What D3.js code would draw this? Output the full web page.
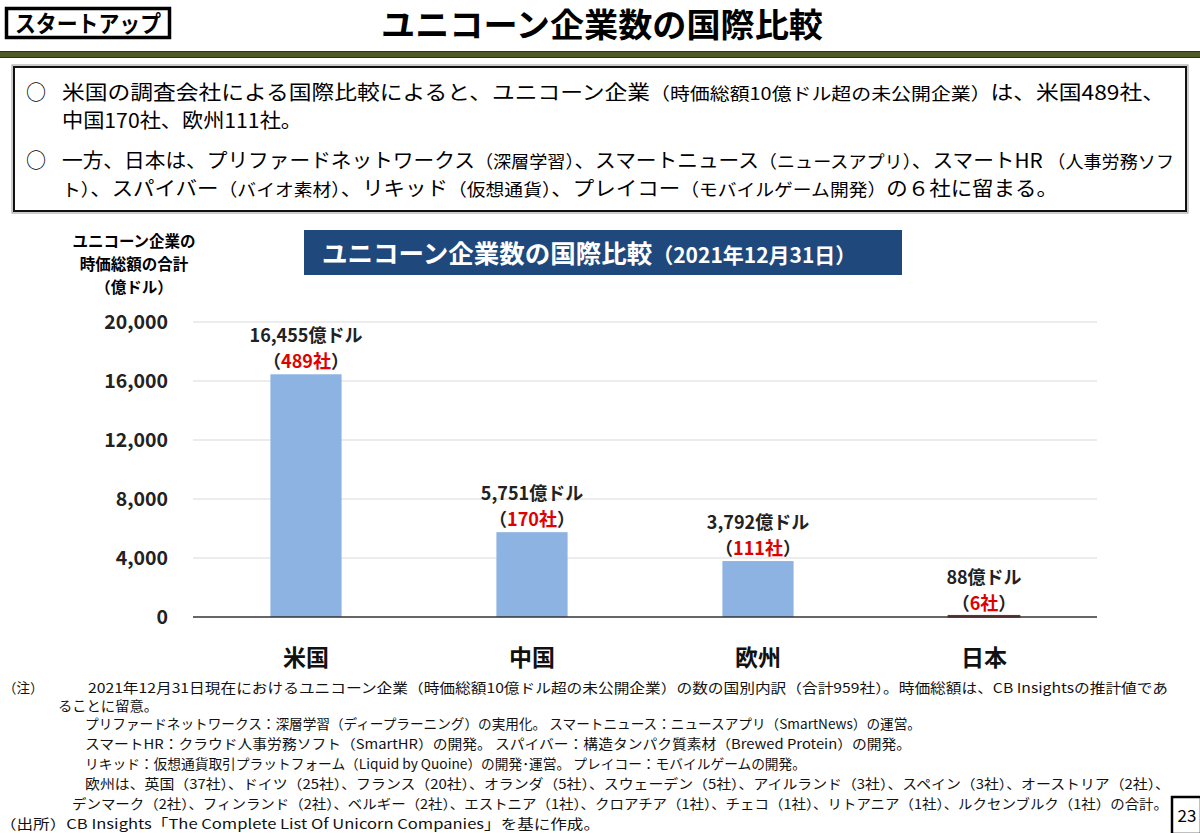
<!DOCTYPE html>
<html>
<head>
<meta charset="utf-8">
<script src="https://cdn.jsdelivr.net/npm/d3@7"></script>
<style>
  body { margin: 0; background: #fff; }
  svg text { font-family: "Noto Sans CJK JP", "Noto Sans", sans-serif; }
</style>
</head>
<body>
<div id="chart"></div>
<script>
// data
var categories = ["米国", "中国", "欧州", "日本"];
var values = [16455, 5751, 3792, 88];     // 億ドル
var counts = [489, 170, 111, 6];          // 社
var yTicks = [0, 4000, 8000, 12000, 16000, 20000];

var W = 1200, H = 833;
var svg = d3.select("#chart").append("svg")
  .attr("width", W).attr("height", H);

// ---- slide header ----
svg.append("rect").attr("x", 6.5).attr("y", 8.5).attr("width", 163).attr("height", 29)
  .attr("fill", "#fff").attr("stroke", "#000").attr("stroke-width", 3.5);
svg.append("text").attr("x", 88).attr("y", 32).attr("text-anchor", "middle")
  .attr("font-size", 23).attr("font-weight", "bold")
  .attr("textLength", 146).attr("lengthAdjust", "spacingAndGlyphs")
  .text("スタートアップ");

svg.append("text").attr("x", 602).attr("y", 37).attr("text-anchor", "middle")
  .attr("font-size", 33).attr("font-weight", "bold")
  .attr("textLength", 442).attr("lengthAdjust", "spacingAndGlyphs")
  .text("ユニコーン企業数の国際比較");

svg.append("rect").attr("x", 0).attr("y", 51).attr("width", W).attr("height", 7).attr("fill", "#4d5a27");
svg.append("line").attr("x1", 0).attr("x2", W).attr("y1", 51.5).attr("y2", 51.5).attr("stroke", "#2b2f1c");
svg.append("line").attr("x1", 0).attr("x2", W).attr("y1", 57.5).attr("y2", 57.5).attr("stroke", "#2b2f1c");

// ---- summary box ----
svg.append("rect").attr("x", 12).attr("y", 65).attr("width", 1176).attr("height", 148)
  .attr("fill", "none").attr("stroke", "#999").attr("stroke-width", 1);
svg.append("rect").attr("x", 14).attr("y", 67).attr("width", 1172).attr("height", 144)
  .attr("fill", "#fff").attr("stroke", "#111").attr("stroke-width", 2);

var summary = [
  { y: 100, bullet: true, len: 1103, parts: [
      ["米国の調査会社による国際比較によると、ユニコーン企業", 20],
      ["（時価総額10億ドル超の未公開企業）", 17.5],
      ["は、米国489社、", 20]] },
  { y: 128, bullet: false, len: 240, parts: [["中国170社、欧州111社。", 20]] },
  { y: 168, bullet: true, len: 1112, parts: [
      ["一方、日本は、プリファードネットワークス", 20],
      ["（深層学習）", 17.5], ["、スマートニュース", 20],
      ["（ニュースアプリ）", 17.5], ["、スマートHR ", 20],
      ["（人事労務ソフ", 17.5]] },
  { y: 196, bullet: false, len: 996, parts: [
      ["ト）", 17.5], ["、スパイバー", 20], ["（バイオ素材）", 17.5],
      ["、リキッド", 20], ["（仮想通貨）", 17.5], ["、プレイコー", 20],
      ["（モバイルゲーム開発）", 17.5], ["の６社に留まる。", 20]] }
];

summary.forEach(function(line) {
  if (line.bullet) {
    svg.append("text").attr("x", 26).attr("y", line.y).attr("font-size", 20).text("○");
  }
  var t = svg.append("text").attr("x", 62).attr("y", line.y)
    .attr("textLength", line.len).attr("lengthAdjust", "spacingAndGlyphs");
  line.parts.forEach(function(p) {
    t.append("tspan").attr("font-size", p[1]).text(p[0]);
  });
});

// ---- chart ----
var x = d3.scaleBand().domain(categories).range([193, 1097])
  .paddingInner(0.685).paddingOuter(0.3425);
var y = d3.scaleLinear().domain([0, 20000]).range([617, 322]);

// chart title band
svg.append("rect").attr("x", 304).attr("y", 230).attr("width", 598).attr("height", 45).attr("fill", "#1f497d");
var ct = svg.append("text").attr("x", 322).attr("y", 263).attr("fill", "#fff").attr("font-weight", "bold");
ct.append("tspan").attr("font-size", 25.5).text("ユニコーン企業数の国際比較");
ct.append("tspan").attr("font-size", 21).text("（2021年12月31日）");

// y axis title
["ユニコーン企業の", "時価総額の合計", "（億ドル）"].forEach(function(s, i) {
  svg.append("text").attr("x", 134).attr("y", 247 + i * 23).attr("text-anchor", "middle")
    .attr("font-size", 15.5).attr("font-weight", "bold").text(s);
});

// gridlines
svg.append("g").selectAll("line").data(yTicks.slice(1)).enter().append("line")
  .attr("x1", 193).attr("x2", 1097)
  .attr("y1", function(d) { return y(d); }).attr("y2", function(d) { return y(d); })
  .attr("stroke", "#d9d9d9").attr("stroke-width", 1.2);

// y axis labels
var yAxis = d3.axisLeft(y).tickValues(yTicks).tickSize(0).tickPadding(0)
  .tickFormat(d3.format(","));
var yg = svg.append("g").attr("transform", "translate(168,0)").call(yAxis);
yg.select(".domain").remove();
yg.selectAll("text").attr("font-size", 19.5).attr("font-weight", "bold").attr("fill", "#222")
  .style("font-family", "'Noto Sans CJK JP', sans-serif");

var rows = categories.map(function(c, i) { return { cat: c, v: values[i], n: counts[i] }; });

// bars
svg.append("g").selectAll("rect").data(rows).enter().append("rect")
  .attr("x", function(d) { return x(d.cat); })
  .attr("width", x.bandwidth())
  .attr("y", function(d) { return y(d.v); })
  .attr("height", function(d) { return y(0) - y(d.v); })
  .attr("fill", function(d) { return d.cat === "日本" ? "#9c1c1c" : "#8db3e2"; })
  .attr("stroke", function(d) { return d.cat === "日本" ? "#9c1c1c" : "none"; })
  .attr("stroke-width", 1.5);

// baseline
svg.append("line").attr("x1", 193).attr("x2", 1097).attr("y1", y(0)).attr("y2", y(0))
  .attr("stroke", "#333").attr("stroke-width", 1.5);

// value labels
var lab = svg.append("g").selectAll("g").data(rows).enter().append("g");
lab.append("text")
  .attr("x", function(d) { return x(d.cat) + x.bandwidth() / 2; })
  .attr("y", function(d) { return y(d.v) - 32; })
  .attr("text-anchor", "middle").attr("font-size", 18).attr("font-weight", "bold").attr("fill", "#222")
  .text(function(d) { return d3.format(",")(d.v) + "億ドル"; });
var l2 = lab.append("text")
  .attr("x", function(d) { return x(d.cat) + x.bandwidth() / 2; })
  .attr("y", function(d) { return y(d.v) - 6; })
  .attr("text-anchor", "middle").attr("font-size", 18).attr("font-weight", "bold").attr("fill", "#222");
l2.append("tspan").text("（");
l2.append("tspan").attr("fill", "#e00000").text(function(d) { return d.n + "社"; });
l2.append("tspan").text("）");

// category labels
svg.append("g").selectAll("text").data(categories).enter().append("text")
  .attr("x", function(d) { return x(d) + x.bandwidth() / 2; })
  .attr("y", 666).attr("text-anchor", "middle")
  .attr("font-size", 23).attr("font-weight", "bold").attr("fill", "#111")
  .text(function(d) { return d; });

// ---- notes ----
var notes = [
  [3, 693, 0, "（注）"],
  [88, 693, 1080, "2021年12月31日現在におけるユニコーン企業（時価総額10億ドル超の未公開企業）の数の国別内訳（合計959社）。時価総額は、CB Insightsの推計値であ"],
  [58, 711, 100, "ることに留意。"],
  [85, 729, 836, "プリファードネットワークス：深層学習（ディープラーニング）の実用化。 スマートニュース：ニュースアプリ（SmartNews）の運営。"],
  [85, 749, 826, "スマートHR：クラウド人事労務ソフト（SmartHR）の開発。 スパイバー：構造タンパク質素材（Brewed Protein）の開発。"],
  [85, 769, 721, "リキッド：仮想通貨取引プラットフォーム（Liquid by Quoine）の開発･運営。 プレイコー：モバイルゲームの開発。"],
  [85, 789, 1085, "欧州は、英国（37社）、ドイツ（25社）、フランス（20社）、オランダ（5社）、スウェーデン（5社）、アイルランド（3社）、スペイン（3社）、オーストリア（2社）、"],
  [72, 809, 1096, "デンマーク（2社）、フィンランド（2社）、ベルギー（2社）、エストニア（1社）、クロアチア（1社）、チェコ（1社）、リトアニア（1社）、ルクセンブルク（1社）の合計。"],
  [0, 829, 600, "（出所）CB Insights「The Complete List Of Unicorn Companies」を基に作成。"]
];
notes.forEach(function(n) {
  var t = svg.append("text").attr("x", n[0]).attr("y", n[1]).attr("font-size", 13.5).attr("fill", "#111").text(n[3]);
  if (n[2]) t.attr("textLength", n[2]).attr("lengthAdjust", "spacingAndGlyphs");
});

// page number
svg.append("rect").attr("x", 1172).attr("y", 797).attr("width", 29).attr("height", 37)
  .attr("fill", "#fff").attr("stroke", "#000").attr("stroke-width", 2.5);
svg.append("text").attr("x", 1187).attr("y", 822).attr("text-anchor", "middle")
  .attr("font-size", 17).text("23");
</script>
</body>
</html>
